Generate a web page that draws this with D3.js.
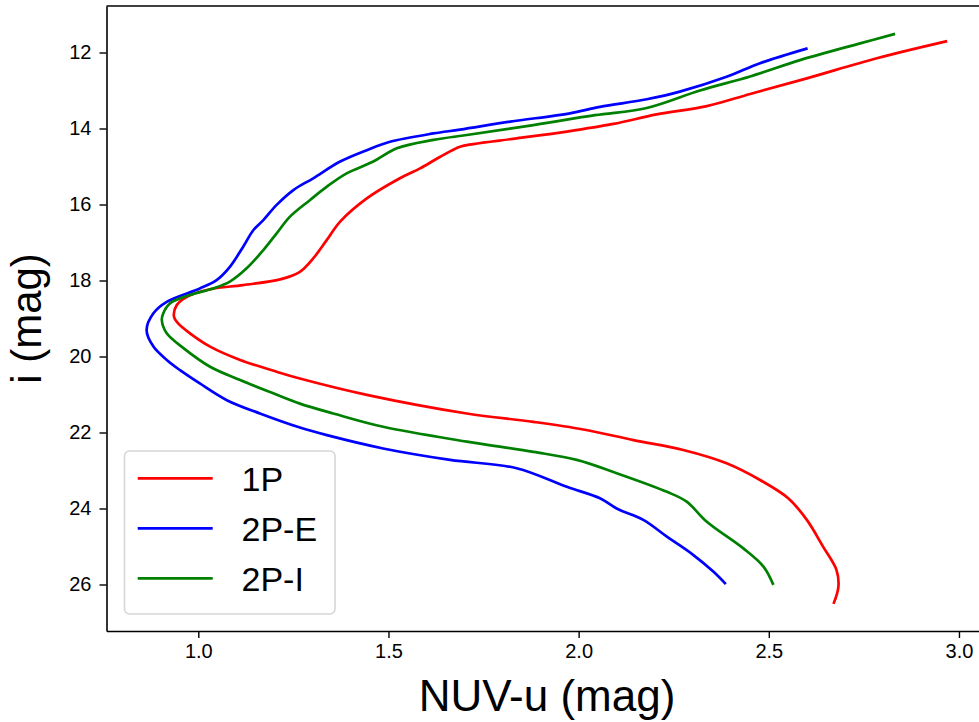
<!DOCTYPE html>
<html>
<head>
<meta charset="utf-8">
<script src="https://cdn.jsdelivr.net/npm/d3@7"></script>
<style>
  html, body { margin: 0; padding: 0; background: #fff; }
  svg { display: block; font-family: "Liberation Sans", Arial, sans-serif; }
</style>
</head>
<body>
<svg id="chart" width="979" height="722"></svg>
<script>
// Fiducial lines in the NUV-u vs i colour-magnitude diagram, one per population.
// Each point is [NUV-u (mag), i (mag)], listed from the bright end to the faint end.
const series1P = [
  [2.969, 11.70], [2.784, 12.15], [2.600, 12.68], [2.451, 13.09], [2.337, 13.41],
  [2.205, 13.63], [2.091, 13.88], [1.969, 14.08], [1.837, 14.26], [1.723, 14.41],
  [1.688, 14.48], [1.635, 14.75], [1.583, 15.05], [1.530, 15.31], [1.443, 15.84],
  [1.373, 16.45], [1.338, 16.93], [1.302, 17.42], [1.267, 17.77], [1.215, 17.97],
  [1.118, 18.12], [1.031, 18.23], [0.970, 18.43], [0.943, 18.65], [0.936, 18.95],
  [0.947, 19.13], [0.978, 19.39], [1.031, 19.74], [1.110, 20.09], [1.206, 20.40],
  [1.267, 20.58], [1.443, 21.01], [1.706, 21.50], [1.881, 21.72], [2.012, 21.92],
  [2.144, 22.20], [2.275, 22.46], [2.389, 22.81], [2.477, 23.25], [2.551, 23.73],
  [2.600, 24.30], [2.643, 25.01], [2.678, 25.62], [2.683, 26.06], [2.670, 26.51]
];
const series2PE = [
  [2.602, 11.89], [2.477, 12.28], [2.389, 12.64], [2.266, 13.03], [2.179, 13.23],
  [2.056, 13.43], [1.977, 13.60], [1.820, 13.82], [1.688, 14.03], [1.618, 14.13],
  [1.504, 14.35], [1.443, 14.57], [1.373, 14.87], [1.302, 15.31], [1.250, 15.62],
  [1.206, 16.01], [1.171, 16.41], [1.145, 16.67], [1.118, 17.11], [1.083, 17.64],
  [1.048, 17.99], [1.004, 18.21], [0.917, 18.56], [0.882, 18.86], [0.864, 19.30],
  [0.882, 19.74], [0.917, 20.09], [0.952, 20.36], [1.004, 20.71], [1.075, 21.15],
  [1.162, 21.50], [1.267, 21.87], [1.338, 22.07], [1.486, 22.42], [1.662, 22.72],
  [1.837, 22.94], [1.969, 23.43], [2.056, 23.73], [2.100, 24.00], [2.170, 24.30],
  [2.232, 24.74], [2.301, 25.22], [2.354, 25.66], [2.387, 25.99]
];
const series2PI = [
  [2.832, 11.51], [2.740, 11.76], [2.582, 12.20], [2.451, 12.63], [2.319, 13.00],
  [2.179, 13.46], [2.043, 13.65], [1.881, 13.91], [1.706, 14.17], [1.618, 14.30],
  [1.522, 14.52], [1.460, 14.87], [1.390, 15.18], [1.338, 15.53], [1.294, 15.88],
  [1.241, 16.32], [1.206, 16.76], [1.171, 17.20], [1.127, 17.68], [1.083, 18.03],
  [1.039, 18.21], [0.978, 18.38], [0.926, 18.60], [0.908, 18.86], [0.904, 19.04],
  [0.917, 19.39], [0.961, 19.78], [1.031, 20.27], [1.110, 20.62], [1.197, 20.97],
  [1.267, 21.24], [1.355, 21.50], [1.486, 21.85], [1.706, 22.24], [1.881, 22.51],
  [1.995, 22.72], [2.100, 23.07], [2.232, 23.56], [2.284, 23.82], [2.337, 24.35],
  [2.433, 25.05], [2.486, 25.53], [2.512, 26.01]
];

const seriesNames = ["1P", "2P-E", "2P-I"];
const seriesColors = ["#ff0000", "#0000ff", "#008000"];
const seriesData = [series1P, series2PE, series2PI];

const xTickValues = [1.0, 1.5, 2.0, 2.5, 3.0];
const yTickValues = [12, 14, 16, 18, 20, 22, 24, 26];
const xLimits = [0.7586, 3.075];
const yLimits = [10.776, 27.224];

const svg = d3.select("#chart");
const margin = { left: 106.5, top: 6, right: 987.5, bottom: 631 };

const x = d3.scaleLinear().domain(xLimits).range([margin.left, margin.right]);
// magnitudes grow downward
const y = d3.scaleLinear().domain(yLimits).range([margin.top, margin.bottom]);

svg.append("defs").append("clipPath").attr("id", "plotClip")
  .append("rect")
  .attr("x", margin.left).attr("y", margin.top)
  .attr("width", margin.right - margin.left)
  .attr("height", margin.bottom - margin.top);

const line = d3.line()
  .x(d => x(d[0]))
  .y(d => y(d[1]))
  .curve(d3.curveCatmullRom.alpha(0.5));

svg.append("g").attr("clip-path", "url(#plotClip)")
  .selectAll("path.series")
  .data(seriesData)
  .join("path")
  .attr("class", "series")
  .attr("d", line)
  .attr("fill", "none")
  .attr("stroke", (d, i) => seriesColors[i])
  .attr("stroke-width", 2.7)
  .attr("stroke-linejoin", "round")
  .attr("stroke-linecap", "butt");

// axes
const xAxis = d3.axisBottom(x).tickValues(xTickValues).tickFormat(d3.format(".1f"))
  .tickSize(7).tickSizeOuter(0).tickPadding(6);
const yAxis = d3.axisLeft(y).tickValues(yTickValues).tickFormat(d3.format("d"))
  .tickSize(7).tickSizeOuter(0).tickPadding(8);

const gx = svg.append("g").attr("transform", `translate(0,${margin.bottom})`).call(xAxis);
const gy = svg.append("g").attr("transform", `translate(${margin.left},0)`).call(yAxis);

[gx, gy].forEach(g => {
  g.selectAll("path.domain").attr("stroke", "#000").attr("stroke-width", 1.6);
  g.selectAll(".tick line").attr("stroke", "#000").attr("stroke-width", 1.4);
  g.selectAll(".tick text").attr("fill", "#000")
    .style("font-size", "20px")
    .style("font-family", "'Liberation Sans', Arial, sans-serif");
});

// top and right spines
svg.append("line")
  .attr("x1", margin.left).attr("x2", margin.right)
  .attr("y1", margin.top).attr("y2", margin.top)
  .attr("stroke", "#000").attr("stroke-width", 1.6);
svg.append("line")
  .attr("x1", margin.right).attr("x2", margin.right)
  .attr("y1", margin.top).attr("y2", margin.bottom)
  .attr("stroke", "#000").attr("stroke-width", 1.6);

// axis titles
svg.append("text")
  .attr("x", (margin.left + margin.right) / 2)
  .attr("y", 711)
  .attr("text-anchor", "middle")
  .style("font-size", "44px")
  .attr("fill", "#000")
  .text("NUV-u (mag)");

svg.append("text")
  .attr("transform", `translate(41,${(margin.top + margin.bottom) / 2}) rotate(-90)`)
  .attr("text-anchor", "middle")
  .style("font-size", "42px")
  .attr("fill", "#000")
  .text("i (mag)");

// legend
const legend = svg.append("g");
legend.append("rect")
  .attr("x", 124.5).attr("y", 451)
  .attr("width", 210.5).attr("height", 163)
  .attr("rx", 5).attr("ry", 5)
  .attr("fill", "#fff").attr("fill-opacity", 0.8)
  .attr("stroke", "#d6d6d6").attr("stroke-width", 1.6);

const rows = legend.selectAll("g.entry")
  .data(seriesNames)
  .join("g")
  .attr("class", "entry")
  .attr("transform", (d, i) => `translate(0,${478.3 + i * 50})`);

rows.append("line")
  .attr("x1", 137.7).attr("x2", 212.7)
  .attr("y1", 0).attr("y2", 0)
  .attr("stroke", (d, i) => seriesColors[i])
  .attr("stroke-width", 2.7);

rows.append("text")
  .attr("x", 241.5)
  .attr("y", 12.5)
  .style("font-size", "34px")
  .attr("fill", "#000")
  .text(d => d);
</script>
</body>
</html>
